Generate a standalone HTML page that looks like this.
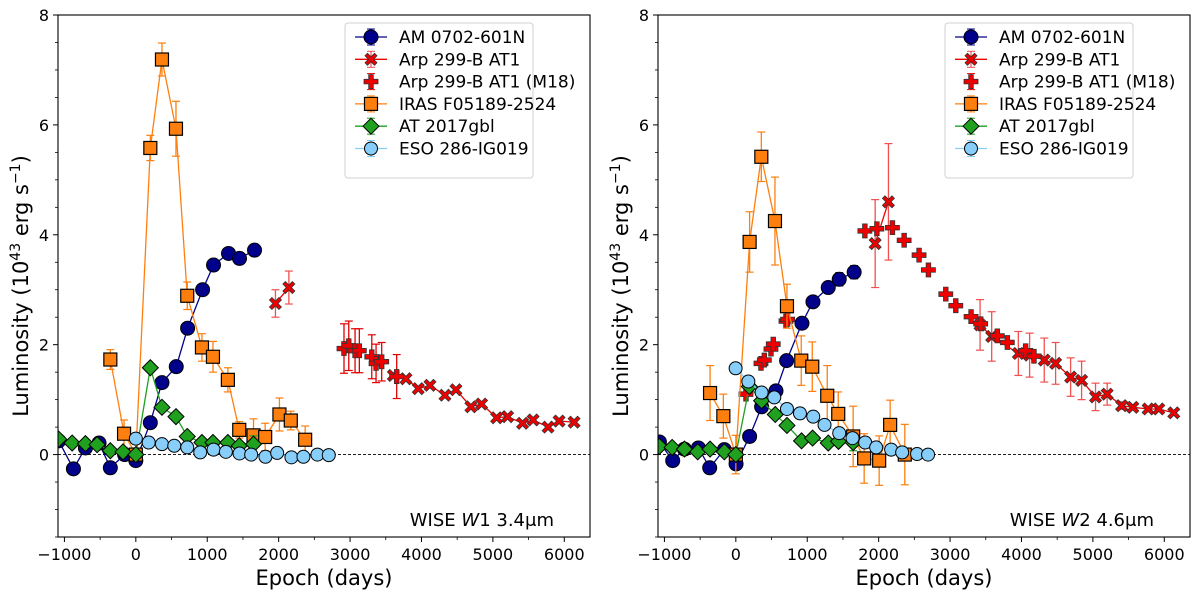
<!DOCTYPE html>
<html><head><meta charset="utf-8"><style>
body{margin:0;background:#fff;}
svg{display:block;font-family:"DejaVu Sans","Liberation Sans",sans-serif;}
</style></head><body>
<svg id="fig" width="1200" height="597" viewBox="0 0 1200 597" xmlns="http://www.w3.org/2000/svg"></svg>
<script>
// ---------- data: left panel (W1) ----------
const amW1Days=[-1080,-874,-706,-515,-357,-157,0,203,366,566,725,935,1088,1298,1452,1662];
const amW1Lum=[0.25,-0.26,0.12,0.21,-0.24,0.0,-0.11,0.58,1.31,1.6,2.3,3.0,3.45,3.66,3.57,3.72];
const amW1Err=[0.05,0.05,0.05,0.05,0.05,0.05,0.05,0.05,0.05,0.05,0.05,0.05,0.05,0.05,0.05,0.05];
const arpW1DaysA=[1955,2143];
const arpW1LumA=[2.75,3.04];
const arpW1ErrA=[0.25,0.3];
const arpW1DaysB=[3606,3783,3955,4119,4329,4483,4692,4842,5052,5206,5416,5564,5773,5927,6137];
const arpW1LumB=[1.44,1.38,1.2,1.26,1.08,1.18,0.87,0.92,0.67,0.69,0.57,0.63,0.5,0.61,0.59];
const m18W1Days=[2915,2982,3070,3130,3304,3364,3443,3653];
const m18W1Lum=[1.93,1.98,1.89,1.89,1.78,1.66,1.69,1.42];
const m18W1Err=[0.45,0.45,0.4,0.4,0.4,0.35,0.35,0.4];
const irasW1Days=[-357,-165,0,203,366,562,720,926,1080,1289,1448,1648,1811,2011,2170,2371];
const irasW1Lum=[1.73,0.38,0.0,5.58,7.19,5.93,2.89,1.95,1.78,1.36,0.45,0.35,0.32,0.73,0.62,0.27];
const irasW1Err=[0.18,0.25,0.1,0.23,0.3,0.5,0.25,0.25,0.28,0.22,0.15,0.3,0.25,0.3,0.17,0.25];
const gblW1Days=[-1080,-892,-706,-542,-357,-179,0,203,366,562,720,926,1080,1289,1448,1648];
const gblW1Lum=[0.28,0.21,0.2,0.18,0.07,0.05,0.0,1.58,0.86,0.69,0.33,0.22,0.22,0.22,0.16,0.19];
const gblW1Err=[0,0,0,0,0,0,0,0,0,0,0,0,0,0,0,0.15];
const esoW1Days=[0,180,366,538,720,902,1088,1261,1452,1615,1815,1979,2179,2347,2543,2702];
const esoW1Lum=[0.29,0.22,0.19,0.16,0.13,0.04,0.09,0.05,0.02,0.0,-0.04,0.03,-0.05,-0.04,0.0,-0.01];
// ---------- data: right panel (W2) ----------
const amW2Days=[-1070,-884,-720,-524,-366,-161,3,193,361,562,711,926,1080,1294,1448,1657];
const amW2Lum=[0.23,-0.11,0.1,0.12,-0.24,0.09,-0.17,0.33,0.87,1.16,1.71,2.39,2.78,3.04,3.19,3.32];
const amW2Err=[0.1,0.1,0.1,0.1,0.1,0.1,0.1,0.1,0.1,0.1,0.1,0.1,0.1,0.1,0.12,0.12];
const arpW2DaysA=[1951,2137];
const arpW2LumA=[3.84,4.6];
const arpW2ErrA=[0.8,1.06];
const arpW2DaysB=[3420,3583,3956,4114,4319,4478,4688,4842,5037,5200,5402,5559,5774,5923,6133];
const arpW2LumB=[2.36,2.15,1.84,1.81,1.72,1.66,1.41,1.35,1.05,1.1,0.89,0.86,0.83,0.83,0.76];
const arpW2ErrB=[0.46,0.45,0.4,0.4,0.4,0.38,0.35,0.35,0.25,0.2,0.07,0.05,0.03,0.03,0.03];
const m18W2Days=[142,352,399,492,524,702,725,1807,1975,2193,2357,2566,2697,2940,3080,3294,3429,3662,3802,4058,4175];
const m18W2Lum=[1.1,1.66,1.72,1.92,2.01,2.43,2.46,4.07,4.11,4.13,3.9,3.63,3.36,2.92,2.71,2.51,2.38,2.16,2.04,1.89,1.79];
const irasW2Days=[-361,-175,0,193,357,548,716,916,1070,1280,1434,1643,1797,2007,2161,2366];
const irasW2Lum=[1.12,0.7,0.0,3.87,5.42,4.25,2.7,1.71,1.6,1.07,0.74,0.33,-0.07,-0.11,0.54,0.0];
const irasW2Err=[0.5,0.4,0.35,0.55,0.45,0.8,0.4,0.45,0.45,0.55,0.4,0.55,0.45,0.45,0.45,0.55];
const gblW2Days=[-1070,-892,-720,-534,-361,-161,0,189,361,552,716,920,1075,1294,1438,1643];
const gblW2Lum=[0.15,0.13,0.1,0.05,0.1,0.05,0.0,1.24,0.98,0.73,0.53,0.25,0.3,0.21,0.24,0.22];
const gblW2Err=[0,0,0,0,0,0,0,0,0,0,0,0,0,0,0,0.15];
const esoW2Days=[-3,175,361,538,716,898,1084,1242,1448,1634,1811,1965,2175,2329,2538,2692];
const esoW2Lum=[1.57,1.33,1.13,1.04,0.83,0.75,0.69,0.54,0.39,0.3,0.22,0.13,0.09,0.04,0.01,0.0];

const xTicks=[-1000,0,1000,2000,3000,4000,5000,6000];
const xTickLabels=["\u22121000","0","1000","2000","3000","4000","5000","6000"];
const yTicks=[0,2,4,6,8];
const yTickLabels=["0","2","4","6","8"];
const legendLabels=["AM 0702-601N","Arp 299-B AT1","Arp 299-B AT1 (M18)","IRAS F05189-2524","AT 2017gbl","ESO 286-IG019"];

const NS="http://www.w3.org/2000/svg";
const svg=document.getElementById('fig');
const XMIN=-1090,XMAX=6360,YMIN=-1.5,YMAX=8,TOP=15,BOT=537,W=532;
const C={am:"#00008b",arp:"#ee0000",iras:"#ff7f0e",gbl:"#1fa01f",eso:"#87cefa"};
function el(tag,attrs,parent){const e=document.createElementNS(NS,tag);for(const k in attrs)e.setAttribute(k,attrs[k]);(parent||svg).appendChild(e);return e;}

function marker(g,type,x,y,color){
  let m;
  if(type==='o'){m=el('circle',{cx:x,cy:y,r:7,fill:color,stroke:'#000','stroke-width':1},g);}
  else if(type==='oS'){m=el('circle',{cx:x,cy:y,r:6.5,fill:color,stroke:'#000','stroke-width':1},g);}
  else if(type==='s'){m=el('rect',{x:x-6.5,y:y-6.5,width:13,height:13,fill:color,stroke:'#000','stroke-width':1.2},g);}
  else if(type==='D'){m=el('polygon',{points:`${x},${y-8} ${x+8},${y} ${x},${y+8} ${x-8},${y}`,fill:color,stroke:'#000','stroke-width':1},g);}
  else if(type==='X'){const a=2.5,b=6;m=el('polygon',{points:`${x-b+a},${y-b} ${x},${y-a} ${x+b-a},${y-b} ${x+b},${y-b+a} ${x+a},${y} ${x+b},${y+b-a} ${x+b-a},${y+b} ${x},${y+a} ${x-b+a},${y+b} ${x-b},${y+b-a} ${x-a},${y} ${x-b},${y-b+a}`,fill:color,stroke:'#333','stroke-width':0.8},g);}
  else if(type==='P'){const a=2.3,b=7;m=el('polygon',{points:`${x-a},${y-b} ${x+a},${y-b} ${x+a},${y-a} ${x+b},${y-a} ${x+b},${y+a} ${x+a},${y+a} ${x+a},${y+b} ${x-a},${y+b} ${x-a},${y+a} ${x-b},${y+a} ${x-b},${y-a} ${x-a},${y-a}`,fill:color,stroke:'#333','stroke-width':0.8},g);}
  
  
  return m;
}

function panel(left,idx){
  const sx=d=>left+(d-XMIN)/(XMAX-XMIN)*W;
  const sy=v=>BOT-(v-YMIN)/(YMAX-YMIN)*(BOT-TOP);
  const g=el('g',{});
  
  
  const clipId='clip'+idx;
  const cp=el('clipPath',{id:clipId},g);el('rect',{x:left,y:TOP,width:W,height:BOT-TOP},cp);
  const zl=el('line',{x1:left,x2:left+W,y1:sy(0),y2:sy(0),stroke:'#000','stroke-width':0.8,'stroke-dasharray':'3,2'},g);
  
  const pg=el('g',{'clip-path':`url(#${clipId})`},g);
  function series(name,days,lum,err,color,mk,line,ecolor,lw){
    const s=el('g',{},pg);
    
    
    if(line){el('polyline',{points:days.map((d,i)=>sx(d)+','+sy(lum[i])).join(' '),fill:'none',stroke:color,'stroke-width':lw||1.3},s);}
    if(err){days.forEach((d,i)=>{if(!err[i])return;const x=sx(d),y1=sy(lum[i]-err[i]),y2=sy(lum[i]+err[i]);
      el('line',{x1:x,x2:x,y1:y1,y2:y2,stroke:ecolor||color,'stroke-width':1.3},s);
      el('line',{x1:x-4,x2:x+4,y1:y1,y2:y1,stroke:ecolor||color,'stroke-width':1.2},s);
      el('line',{x1:x-4,x2:x+4,y1:y2,y2:y2,stroke:ecolor||color,'stroke-width':1.2},s);});}
    days.forEach((d,i)=>marker(s,mk,sx(d),sy(lum[i]),color));
  }
  if(idx===0){
    series('am0702-series',amW1Days,amW1Lum,null,C.am,'o',true);
    series('arp299-series',arpW1DaysA,arpW1LumA,arpW1ErrA,C.arp,'X',true,'#f05050');
    series('arp299-series-late',arpW1DaysB,arpW1LumB,null,C.arp,'X',true);
    series('arp299-m18-series',m18W1Days,m18W1Lum,m18W1Err,C.arp,'P',false,'#e00000',2);
    series('iras-series',irasW1Days,irasW1Lum,irasW1Err,C.iras,'s',true);
    series('at2017gbl-series',gblW1Days,gblW1Lum,gblW1Err,C.gbl,'D',true);
    series('eso286-series',esoW1Days,esoW1Lum,null,C.eso,'oS',true);
  } else {
    series('am0702-series',amW2Days,amW2Lum,amW2Err,C.am,'o',true);
    series('arp299-series',arpW2DaysA,arpW2LumA,arpW2ErrA,C.arp,'X',true,'#f05050');
    series('arp299-series-late',arpW2DaysB,arpW2LumB,arpW2ErrB,C.arp,'X',true,'#f05050');
    series('arp299-m18-series',m18W2Days,m18W2Lum,null,C.arp,'P',false);
    series('iras-series',irasW2Days,irasW2Lum,irasW2Err,C.iras,'s',true);
    series('at2017gbl-series',gblW2Days,gblW2Lum,gblW2Err,C.gbl,'D',true);
    series('eso286-series',esoW2Days,esoW2Lum,null,C.eso,'oS',true);
  }
  const fr=el('rect',{x:left,y:TOP,width:W,height:BOT-TOP,fill:'none',stroke:'#000','stroke-width':1.1},g);
  
  xTicks.forEach((t,i)=>{const x=sx(t);
    el('line',{x1:x,x2:x,y1:BOT,y2:BOT+5,stroke:'#000','stroke-width':1},g);
    const tx=el('text',{x:x,y:BOT+23,'text-anchor':'middle','font-size':16,fill:'#000'},g);tx.textContent=xTickLabels[i];
    });
  for(let v=-1000;v<=6000;v+=500){if(v%1000===0)continue;const x=sx(v);el('line',{x1:x,x2:x,y1:BOT,y2:BOT+3,stroke:'#000','stroke-width':0.8},g);}
  yTicks.forEach((t,i)=>{const y=sy(t);
    el('line',{x1:left-5,x2:left,y1:y,y2:y,stroke:'#000','stroke-width':1},g);
    const tx=el('text',{x:left-9,y:y+6,'text-anchor':'end','font-size':16,fill:'#000'},g);tx.textContent=yTickLabels[i];
    });
  for(let v=-1.5;v<=8;v+=0.5){if(v%2===0)continue;const y=sy(v);el('line',{x1:left-3,x2:left,y1:y,y2:y,stroke:'#000','stroke-width':0.8},g);}
  const xt=el('text',{x:left+W/2,y:585,'text-anchor':'middle','font-size':21,fill:'#000'},g);xt.textContent='Epoch (days)';
  
  const yx=left-30,yy=(TOP+BOT)/2+10;
  const yt=el('text',{x:yx,y:yy,'text-anchor':'middle','font-size':21,fill:'#000',transform:`rotate(-90 ${yx} ${yy})`},g);
  yt.innerHTML='Luminosity (10<tspan dy="-8" font-size="14">43</tspan><tspan dy="8"> erg s</tspan><tspan dy="-8" font-size="14">\u22121</tspan><tspan dy="8">)</tspan>';
  
  const band=el('text',{x:left+W-36,y:526,'text-anchor':'end','font-size':18,fill:'#000'},g);
  band.innerHTML=idx===0?'WISE <tspan font-style="italic">W</tspan>1 3.4<tspan>\u03bc</tspan>m':'WISE <tspan font-style="italic">W</tspan>2 4.6<tspan>\u03bc</tspan>m';
  
  const lx=left+W-245,ly=23;
  const lg=el('g',{},g);
  
  el('rect',{x:lx,y:ly,width:188,height:155,rx:3,fill:'#fff',stroke:'#ccc','stroke-width':1,opacity:0.9},lg);
  const specs=[[C.am,'o',true,C.am],[C.arp,'X',true,'#f05050'],[C.arp,'P',false,'#e00'],[C.iras,'s',true,C.iras],[C.gbl,'D',true,C.gbl],[C.eso,'oS',true,C.eso]];
  specs.forEach((s,i)=>{const y=ly+14+i*22.3;const e=el('g',{},lg);
    
    if(s[2])el('line',{x1:lx+10,x2:lx+42,y1:y,y2:y,stroke:s[0],'stroke-width':1.3},e);
    el('line',{x1:lx+26,x2:lx+26,y1:y-8,y2:y+8,stroke:s[3],'stroke-width':1.2},e);
    el('line',{x1:lx+22,x2:lx+30,y1:y-8,y2:y-8,stroke:s[3],'stroke-width':1},e);
    el('line',{x1:lx+22,x2:lx+30,y1:y+8,y2:y+8,stroke:s[3],'stroke-width':1},e);
    marker(e,s[1],lx+26,y,s[0]);
    const t=el('text',{x:lx+54,y:y+6,'font-size':17,fill:'#000'},e);t.textContent=legendLabels[i];});
}
panel(58,0);
panel(658,1);
</script>
</body></html>
